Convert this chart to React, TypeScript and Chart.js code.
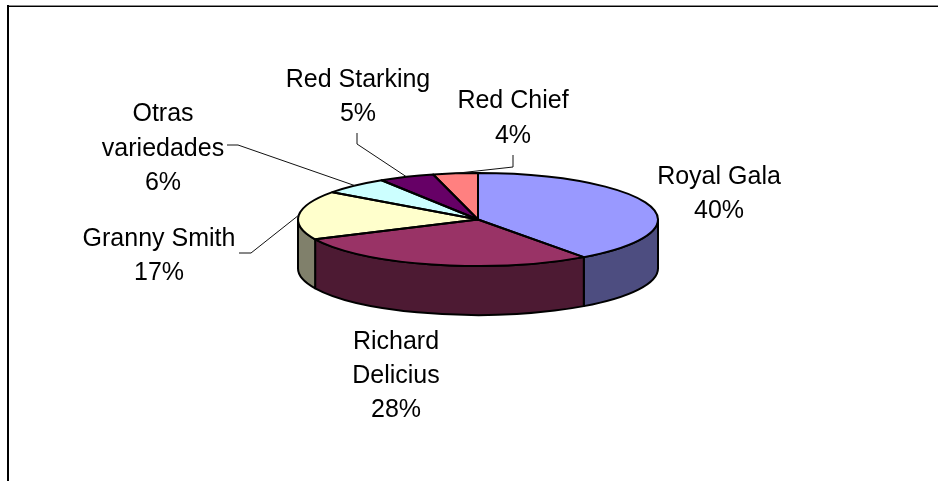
import React, { useEffect, useRef } from "react";
import { Chart, registerables } from "chart.js";

Chart.register(...registerables);

const categories = ["Royal Gala", "Richard Delicius", "Granny Smith", "Otras variedades", "Red Starking", "Red Chief"];
const shares = [40, 28, 17, 6, 5, 4];
const labelLines = [
  ["Royal Gala", "40%"],
  ["Richard", "Delicius", "28%"],
  ["Granny Smith", "17%"],
  ["Otras", "variedades", "6%"],
  ["Red Starking", "5%"],
  ["Red Chief", "4%"],
];
const topColors = ["#9999FF", "#993366", "#FFFFCC", "#CCFFFF", "#660066", "#FF8080"];
const wallColors = ["#4D4D80", "#4D1A33", "#80806B", "#668080", "#330033", "#804040"];

// Layout of the text and of the leader elbows (not data)
const labelPos = [
  { x: 719, y: 184, step: 34 },
  { x: 396, y: 349, step: 34 },
  { x: 159, y: 246, step: 34 },
  { x: 163, y: 121, step: 34.5 },
  { x: 358, y: 87, step: 34 },
  { x: 513, y: 108, step: 35 },
];
const leaders: (number[][] | null)[] = [
  null,
  null,
  [[239, 253], [251, 253]],
  [[227, 145], [238, 145]],
  [[357, 133], [357, 144]],
  [[513, 155], [513, 167]],
];
const SQUASH = 46.5 / 180;
const DEPTH = 49;
const FONT = '25px "Liberation Sans", Arial, sans-serif';
const OUTLINE = 2;

const clamp = (v: number, a: number, b: number) => Math.max(a, Math.min(b, v));

const pie3d = {
  id: "pie3d",
  beforeDraw(chart: any) {
    const c = chart.ctx;
    c.save();
    c.fillStyle = "#fff";
    c.fillRect(0, 0, 938, 481);
    c.fillStyle = "#8a8a8a";
    c.fillRect(7, 5, 931, 1);
    c.fillStyle = "#000";
    c.fillRect(7, 6, 931, 1);
    c.fillRect(7, 5, 2, 476);
    c.restore();
  },
  beforeDatasetsDraw(chart: any) {
    const c = chart.ctx;
    const arcs = chart.getDatasetMeta(0).data;
    // side walls of the front half
    arcs.forEach((el: any, i: number) => {
      const { x, y, startAngle, endAngle, outerRadius: r } = el.getProps(["x", "y", "startAngle", "endAngle", "outerRadius"], true);
      const a = clamp(startAngle, 0, Math.PI);
      const b = clamp(endAngle, 0, Math.PI);
      if (b <= a) return;
      c.save();
      c.beginPath();
      c.ellipse(x, y, r, r * SQUASH, 0, a, b);
      c.ellipse(x, y + DEPTH, r, r * SQUASH, 0, b, a, true);
      c.closePath();
      c.fillStyle = wallColors[i];
      c.fill();
      c.lineWidth = OUTLINE;
      c.strokeStyle = "#000";
      c.lineJoin = "round";
      c.stroke();
      c.restore();
    });
    const first = arcs[0];
    c.save();
    c.translate(first.x, first.y);
    c.scale(1, SQUASH);
    c.translate(-first.x, -first.y);
  },
  afterDatasetsDraw(chart: any) {
    const c = chart.ctx;
    c.restore();
    const arcs = chart.getDatasetMeta(0).data;
    arcs.forEach((el: any) => {
      const { x, y, startAngle, endAngle, outerRadius: r } = el.getProps(["x", "y", "startAngle", "endAngle", "outerRadius"], true);
      c.save();
      c.beginPath();
      c.moveTo(x, y);
      c.ellipse(x, y, r, r * SQUASH, 0, startAngle, endAngle);
      c.closePath();
      c.lineWidth = OUTLINE;
      c.strokeStyle = "#000";
      c.lineJoin = "round";
      c.stroke();
      c.restore();
    });
    // leader lines end at the middle of each slice's rim
    arcs.forEach((el: any, i: number) => {
      const elbow = leaders[i];
      if (!elbow) return;
      const { x, y, startAngle, endAngle, outerRadius: r } = el.getProps(["x", "y", "startAngle", "endAngle", "outerRadius"], true);
      const mid = (startAngle + endAngle) / 2;
      c.save();
      c.beginPath();
      c.moveTo(elbow[0][0], elbow[0][1]);
      c.lineTo(elbow[1][0], elbow[1][1]);
      c.lineTo(x + r * Math.cos(mid), y + r * SQUASH * Math.sin(mid));
      c.lineWidth = 1;
      c.strokeStyle = "#111";
      c.stroke();
      c.restore();
    });
    c.save();
    c.font = FONT;
    c.fillStyle = "#000";
    c.textAlign = "center";
    c.textBaseline = "alphabetic";
    labelLines.forEach((lines, i) => {
      lines.forEach((t, j) => c.fillText(t, labelPos[i].x, labelPos[i].y + j * labelPos[i].step));
    });
    c.restore();
  },
};

export default function App() {
  const ref = useRef<HTMLCanvasElement>(null);
  useEffect(() => {
    const chart = new Chart(ref.current as HTMLCanvasElement, {
      type: "pie",
      data: {
        labels: categories,
        datasets: [{ data: shares, backgroundColor: topColors, borderWidth: 0 }],
      },
      options: {
        animation: false,
        responsive: false,
        events: [],
        layout: { padding: { left: 298, right: 280, top: 39.5, bottom: 81.5 } },
        plugins: { legend: { display: false }, tooltip: { enabled: false } },
      },
      plugins: [pie3d],
    } as any);
    return () => chart.destroy();
  }, []);
  return (
    <div style={{ position: "absolute", left: 0, top: 0, width: 938, height: 481 }}>
      <canvas ref={ref} width={938} height={481} style={{ display: "block" }} />
    </div>
  );
}
